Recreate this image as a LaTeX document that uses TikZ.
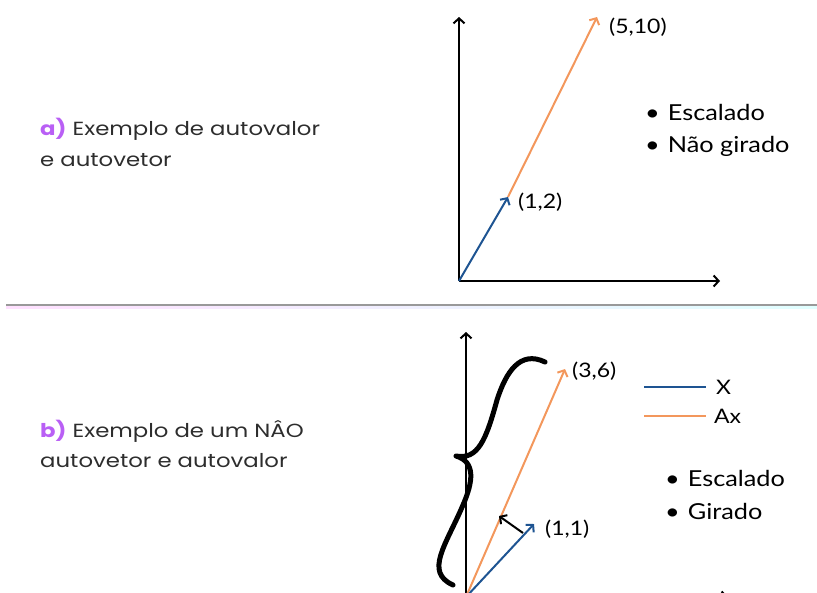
\documentclass[tikz,border=0pt]{standalone}
\usepackage{fontspec}
\setmainfont[FakeStretch=1.15]{Lato}
\newfontfamily\capfont[FakeStretch=1.2]{Poppins}
\usetikzlibrary{arrows.meta}
\tikzset{>={Straight Barb[length=5pt,width=11pt,line width=2pt]}}
\definecolor{vecblue}{RGB}{30,84,146}
\definecolor{vecorange}{RGB}{243,151,92}
\definecolor{itempurple}{RGB}{185,95,245}
\definecolor{capgray}{RGB}{45,45,45}
\tikzset{
  axis/.style = {->,line width=2.3pt},
  thinaxis/.style = {->,line width=1.5pt},
  bluevec/.style = {->,vecblue,line width=2pt},
  orangevec/.style = {->,vecorange,line width=2pt},
  captext/.style = {anchor=base west,inner sep=0pt,text=capgray,
    font=\capfont\fontsize{19}{23}\selectfont},
  label/.style = {anchor=base west,inner sep=0pt,font=\fontsize{20}{24}\selectfont},
  item/.style = {anchor=base west,inner sep=0pt,font=\fontsize{22}{26}\selectfont}
}
\newcommand{\itemdot}{\textbullet\hspace{8pt}}

\begin{document}
\begin{tikzpicture}[x=1pt,y=-1pt]
  \useasboundingbox (0,0) rectangle (817,592);
  \clip (0,0) rectangle (817,592);

  % a) eigenvector
  \node[captext] (capa1) at (40,135) {\textcolor{itempurple}{\bfseries a)} Exemplo de autovalor};
  \node[captext] (capa2) at (40,166) {e autovetor};
  \coordinate (o1) at (459,281);
  \coordinate (ya) at (459,17);
  \coordinate (xa) at (720,281);
  \coordinate (va12) at (508,197);
  \coordinate (va510) at (597,17);
  \draw[axis] (o1) -- (ya);
  \draw[axis] (o1) -- (xa);
  \draw[orangevec] (va12) -- (va510);
  \draw[bluevec] (o1) -- (va12);
  \node[label] (la510) at (609,33) {(5,10)};
  \node[label] (la12) at (518,208) {(1,2)};
  \node[item] (ia1) at (645,120) {\itemdot Escalado};
  \node[item] (ia2) at (645,152) {\itemdot Não girado};

  % separator
  \shade[left color=magenta!12,right color=cyan!12] (6,305) rectangle (817,308);
  \draw[gray!80,line width=1.2pt] (6,305) -- (817,305);

  % b) not an eigenvector
  \node[captext] (capb1) at (40,437) {\textcolor{itempurple}{\bfseries b)} Exemplo de um NÂO};
  \node[captext] (capb2) at (40,467) {autovetor e autovalor};
  \coordinate (o2) at (466,597);
  \coordinate (yb) at (466,332);
  \coordinate (xb) at (728,597);
  \coordinate (vb11) at (534,524);
  \coordinate (vb36) at (565,369);
  \coordinate (rotfrom) at (523,533);
  \coordinate (rotto) at (499,516);
  \draw[thinaxis] (o2) -- (yb);
  \draw[axis] (o2) -- (xb);
  \draw[line width=5pt,line cap=round,line join=round]
    (545,362) .. controls (520,350) and (506,372) .. (497,400)
    .. controls (486,440) and (478,460) .. (456,456)
    .. controls (476,462) and (473,482) .. (463,505)
    .. controls (446,545) and (424,572) .. (453,585);
  \draw[orangevec] (o2) -- (vb36);
  \draw[bluevec] (o2) -- (vb11);
  \draw[->,line width=2pt] (rotfrom) -- (rotto);
  \node[label] (lb36) at (572,377) {(3,6)};
  \node[label] (lb11) at (545,535) {(1,1)};
  \coordinate (lgx) at (644,387);
  \coordinate (lgax) at (644,416);
  \draw[vecblue,line width=2pt] (lgx) -- +(62,0) node[label,text=black,xshift=9pt,yshift=-7pt] (legx) {X};
  \draw[vecorange,line width=2pt] (lgax) -- +(62,0) node[label,text=black,xshift=7pt,yshift=-7pt] (legax) {Ax};
  \node[item] (ib1) at (665,486) {\itemdot Escalado};
  \node[item] (ib2) at (665,519) {\itemdot Girado};
\end{tikzpicture}
\end{document}
